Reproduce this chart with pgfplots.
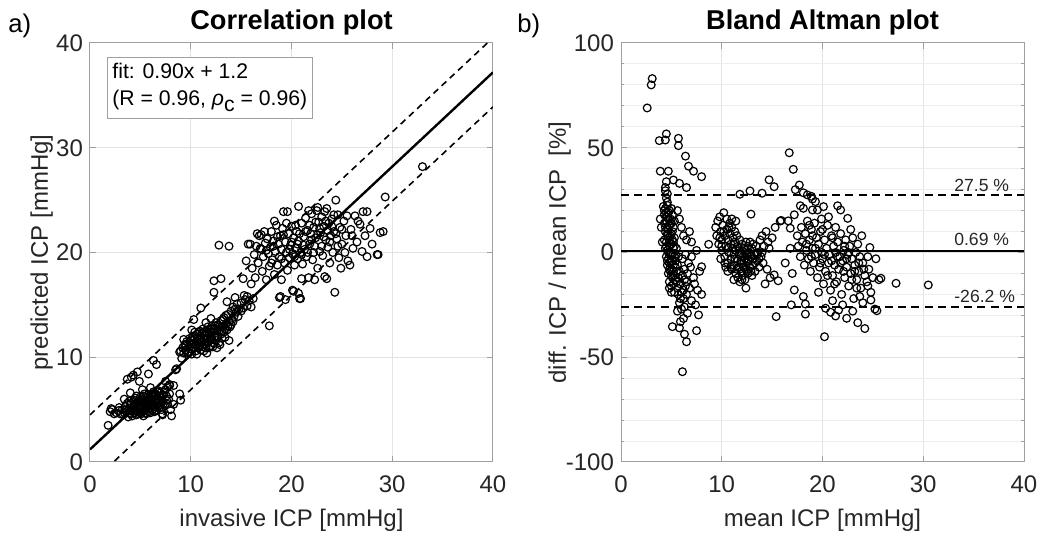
\documentclass[border=0pt]{standalone}
\usepackage{fontspec}
\setmainfont{Liberation Sans}
\usepackage{pgfplots}
\pgfplotsset{compat=1.18}
\usepackage{pgfplotstable}

\definecolor{txt}{HTML}{262626}
\definecolor{axl}{HTML}{A0A0A0}
\definecolor{grd}{HTML}{E3E3E3}
\definecolor{grdm}{HTML}{EEEEEE}

% invasive vs predicted ICP
\pgfplotstableread{
x y
1.8 3.5
2.0 4.8
2.1 5.1
2.2 5.0
2.4 4.6
2.6 4.7
2.8 4.9
2.9 5.2
3.0 4.6
3.2 5.0
3.3 4.5
3.4 6.0
3.4 4.7
3.5 5.3
3.6 4.8
3.6 5.0
3.7 5.6
3.8 4.3
3.9 5.1
3.9 4.7
3.9 5.8
4.0 4.6
4.0 5.5
4.0 6.6
4.1 4.9
4.1 5.6
4.2 5.2
4.2 4.4
4.3 5.8
4.3 4.9
4.4 4.7
4.4 5.3
4.4 5.9
4.5 5.0
4.5 6.1
4.5 5.4
4.6 4.5
4.6 5.5
4.6 6.3
4.7 4.9
4.7 5.7
4.8 5.2
4.8 4.6
4.8 5.8
4.9 5.9
4.9 5.0
5.0 5.4
5.0 4.7
5.0 6.2
5.1 6.0
5.1 5.1
5.1 4.6
5.2 4.8
5.2 5.6
5.2 5.2
5.2 6.9
5.3 5.3
5.3 6.3
5.3 4.4
5.4 4.9
5.4 5.8
5.4 6.5
5.5 5.5
5.5 5.0
5.5 4.7
5.6 6.1
5.6 4.6
5.6 5.2
5.7 5.3
5.7 5.8
5.8 5.1
5.8 6.4
5.8 5.5
5.9 5.6
5.9 4.8
5.9 6.1
6.0 5.9
6.0 5.2
6.0 4.7
6.0 7.1
6.1 6.5
6.1 5.5
6.1 5.8
6.2 5.0
6.2 6.0
6.2 5.4
6.3 5.7
6.3 6.7
6.3 6.2
6.4 5.3
6.4 6.2
6.4 4.8
6.5 5.9
6.5 4.9
6.5 6.5
6.6 6.4
6.6 5.6
6.6 5.0
6.7 6.0
6.7 5.2
6.7 6.7
6.8 6.8
6.8 5.4
6.9 5.8
6.9 6.3
6.9 5.2
7.0 5.5
7.0 6.6
7.0 6.2
7.1 6.1
7.1 5.0
7.2 4.6
7.2 5.8
7.2 4.5
7.3 6.4
7.3 5.6
7.4 5.4
7.4 6.7
7.5 6.9
7.6 5.9
7.6 6.3
7.7 5.5
7.8 6.0
7.9 6.5
7.9 7.3
8.0 5.0
8.3 5.5
8.1 4.4
8.9 6.5
9.0 5.9
8.3 7.3
7.9 7.4
3.7 7.9
4.1 8.1
4.3 8.3
4.7 8.6
4.9 7.7
5.8 8.4
6.6 9.3
6.3 9.7
7.5 7.7
7.7 7.2
8.5 8.8
8.6 8.9
8.9 10.5
9.1 9.9
9.0 10.6
9.2 10.9
9.3 10.4
9.3 11.7
9.4 11.2
9.5 10.7
9.5 11.2
9.6 11.5
9.7 10.5
9.8 11.0
9.8 10.4
9.9 11.8
10.0 10.8
10.0 11.3
10.1 10.3
10.1 11.7
10.1 12.6
10.2 11.6
10.2 12.0
10.3 10.9
10.3 11.3
10.3 13.6
10.4 11.8
10.4 12.4
10.5 10.6
10.5 11.2
10.6 12.2
10.6 11.5
10.6 10.3
10.7 10.9
10.8 11.7
10.8 12.4
10.9 11.1
10.9 12.5
11.0 11.9
11.0 10.7
11.0 14.7
11.0 11.4
11.1 12.3
11.1 11.4
11.2 11.0
11.2 12.7
11.3 11.7
11.3 10.6
11.3 12.4
11.4 12.1
11.4 11.2
11.5 12.5
11.5 10.9
11.5 13.3
11.6 11.8
11.6 10.4
11.6 12.3
11.7 12.9
11.7 11.4
11.8 12.2
11.8 10.9
11.9 11.6
11.9 12.6
12.0 11.1
12.0 12.0
12.0 12.7
12.0 13.7
12.1 13.0
12.1 11.7
12.2 12.4
12.2 11.0
12.3 11.3
12.3 12.8
12.3 17.3
12.3 16.2
12.4 12.0
12.4 13.0
12.5 13.3
12.5 11.6
12.6 12.5
12.6 10.9
12.6 11.9
12.7 12.0
12.7 13.1
12.8 11.4
12.8 20.7
12.8 12.9
12.9 12.6
12.9 11.2
13.0 13.5
13.0 12.2
13.0 17.5
13.1 11.8
13.1 12.5
13.2 12.9
13.2 13.6
13.3 13.8
13.3 12.4
13.4 11.9
13.4 12.7
13.5 13.2
13.5 14.0
13.6 12.6
13.6 15.3
13.7 14.1
13.7 13.0
13.8 13.4
13.8 11.6
13.8 20.6
13.9 12.9
14.0 14.4
14.0 13.1
14.1 13.6
14.2 14.8
14.2 13.4
14.3 13.9
14.4 15.7
14.4 14.6
14.5 14.3
14.6 15.1
14.7 13.9
14.8 14.6
15.0 15.2
15.0 14.4
15.2 14.7
15.2 17.5
15.3 15.9
15.4 15.5
15.5 19.2
15.6 14.9
15.6 15.8
15.7 20.8
15.8 15.4
15.9 20.8
16.0 14.8
16.0 17.0
16.1 18.5
16.2 15.6
16.3 19.8
16.4 17.6
16.5 20.6
16.6 21.8
16.7 19.0
16.8 21.6
16.9 20.4
17.0 21.7
17.0 20.3
17.1 18.2
17.2 19.6
17.3 22.0
17.4 20.9
17.5 17.4
17.5 20.2
17.6 21.3
17.7 19.9
17.8 18.7
17.8 13.0
17.9 20.5
18.0 22.0
18.0 19.0
18.1 19.3
18.2 21.1
18.2 20.6
18.3 17.9
18.3 23.0
18.4 20.1
18.5 22.6
18.6 18.8
18.6 21.5
18.7 20.8
18.8 19.6
18.8 15.7
18.9 21.6
18.9 15.8
19.0 17.4
19.0 20.3
19.0 19.4
19.1 22.3
19.2 23.9
19.2 21.7
19.3 19.0
19.4 21.0
19.4 15.5
19.5 20.0
19.5 22.8
19.6 23.9
19.6 18.3
19.7 21.8
19.8 19.5
19.8 20.3
19.9 20.7
20.0 22.5
20.0 21.0
20.1 16.4
20.1 19.9
20.2 21.4
20.2 16.3
20.3 18.8
20.3 19.6
20.4 20.4
20.4 22.6
20.5 22.0
20.6 19.4
20.6 20.8
20.7 24.4
20.7 21.1
20.7 16.1
20.8 15.6
20.8 21.8
20.9 20.0
20.9 15.6
21.0 22.8
21.0 17.5
21.0 19.8
21.1 18.9
21.2 21.5
21.2 20.7
21.3 20.3
21.4 23.3
21.4 22.0
21.5 19.6
21.6 22.1
21.6 20.0
21.7 17.6
21.7 24.0
21.8 20.8
21.8 22.6
21.9 21.8
22.0 23.7
22.0 21.2
22.1 19.3
22.2 22.4
22.2 20.0
22.3 20.6
22.3 17.4
22.4 21.4
22.4 22.9
22.5 24.0
22.6 18.5
22.6 24.3
22.6 21.7
22.7 22.9
22.8 20.1
22.8 22.3
22.9 21.9
23.0 23.4
23.0 20.6
23.1 19.7
23.2 22.5
23.2 21.5
23.3 17.7
23.3 23.9
23.4 21.2
23.4 23.0
23.5 24.2
23.5 17.5
23.6 20.5
23.6 22.1
23.7 22.8
23.8 19.0
23.8 21.0
23.9 21.6
24.0 23.2
24.0 22.5
24.1 20.0
24.2 22.0
24.2 23.6
24.3 16.2
24.4 25.0
24.4 21.8
24.5 21.3
24.6 23.6
24.6 20.6
24.7 19.5
24.8 22.4
24.9 18.5
25.0 20.8
25.0 22.2
25.2 23.0
25.3 20.0
25.4 21.6
25.5 23.5
25.6 19.2
25.8 18.8
25.9 22.2
26.0 21.6
26.1 20.4
26.3 23.5
26.5 21.0
26.6 23.0
26.8 22.7
27.0 20.1
27.1 23.9
27.3 21.6
27.5 23.9
27.5 19.6
27.8 22.3
28.0 20.8
28.5 19.8
28.6 19.8
28.8 21.9
29.1 22.0
29.3 25.3
33.0 28.2
}\corr

% Bland-Altman: mean ICP vs relative difference [%]
\pgfplotstableread{
x y
3.1 83
3.0 80
2.6 69
3.8 53.4
4.4 53.7
4.5 56.6
5.7 54.5
5.7 51
6.4 46
6.7 41.2
7.2 38.8
8.0 36.2
3.9 38.8
4.7 38.8
4.5 33.8
5.2 34.6
4.4 31
5.8 33
6.5 31
4.6 28
4.4 29.5
4.5 26
4.6 24
4.2 22
4.4 21
4.6 22.5
4.8 20
5.0 21
4.3 20
4.3 18
4.5 17
4.5 19
4.7 19
4.7 16
4.9 16
4.9 14
5.1 18
5.3 15
4.3 14
4.5 15
4.6 12
4.4 12
4.8 13
5.0 14
5.2 12
4.4 10
4.6 9
4.6 8
4.7 11
4.9 8
4.8 6
5.0 9
5.1 10
5.3 7
4.3 6
4.5 5
4.7 7
4.9 4
5.0 4
5.1 6
5.2 5
5.3 3
4.4 2
4.5 3
4.6 1
4.8 3
5.0 0
4.7 0
5.2 2
5.4 -1
5.5 2
4.5 -2
4.7 -3
4.9 -1
4.9 -4
5.1 -1
5.1 -4
5.3 -2
4.6 -4
4.6 -6
4.8 -5
4.8 -8
5.0 -8
5.2 -6
5.4 -7
5.4 -4
5.7 -2
5.6 -6
4.7 -10
4.9 -9
5.0 -11
5.1 -12
5.2 -9
5.3 -11
5.5 -9
5.8 -9
4.8 -14
5.0 -16
5.2 -15
5.4 -13
5.5 -14
5.6 -17
5.3 -19
5.0 -19
4.8 -17
5.7 -12
5.7 -20
5.9 -15
5.9 -22
4.0 12
3.9 16
4.1 5
5.6 20
5.8 16
6.0 12
6.2 8
6.5 6
6.8 10
7.0 5
6.1 -3
6.1 -11
6.4 -1
6.7 -5
7.0 -2
6.3 -8
6.3 -13
6.6 -10
6.5 -14
6.9 -7
7.2 -12
6.0 -19
6.2 -18
6.4 -16
6.8 -17
7.3 -15
7.6 -18
6.2 -22
6.5 -20
7.0 -23
7.4 -25
5.8 -24
6.0 -27
6.3 -26
5.6 -28
8.0 -6.8
8.0 -20
8.7 3.9
7.5 1
7.8 -9
5.1 -35.4
5.8 -36
6.2 -31.5
6.3 -39
6.5 -42.6
7.5 -37.3
7.7 -29.8
6.1 -56.9
5.9 -33
6.6 -29
9.4 12
9.5 8
9.6 15
9.7 4
9.8 17
9.8 7
9.9 10
9.9 -3
10.0 1
10.0 6
10.0 3
10.1 13
10.2 19
10.2 10
10.3 -2
10.3 8
10.3 -5
10.4 3
10.4 -7
10.5 11
10.5 16
10.6 -5
10.6 6
10.6 2
10.6 -9
10.7 0
10.7 12
10.8 9
10.8 14
10.9 -3
10.9 4
10.9 -7
11.0 -8
11.0 12
11.0 16
11.1 2
11.1 7
11.2 -1
11.2 -6
11.2 4
11.2 -13
11.3 10
11.3 5
11.3 -3
11.4 -10
11.4 1
11.4 15
11.5 -4
11.5 8
11.5 -8
11.6 -12
11.6 3
11.7 -7
11.7 -1
11.7 2
11.8 6
11.8 -14
11.8 27.8
11.9 0
11.9 -9
11.9 -4
12.0 4
12.0 -5
12.0 -13
12.0 -9
12.1 -2
12.1 -11
12.2 2
12.2 -7
12.2 -4
12.3 -3
12.3 -13
12.3 0
12.4 1
12.4 -8
12.4 -17
12.4 5
12.5 -1
12.5 -5
12.5 -9
12.6 3
12.6 -10
12.6 -3
12.7 -4
12.7 0
12.8 -7
12.8 5
12.8 29.4
12.8 -1
12.9 -2
12.9 18.3
12.9 -9
13.0 -11
13.0 2
13.1 -6
13.1 -3
13.1 4
13.2 -1
13.3 -9
13.3 -5
13.4 3
13.5 -4
13.5 -1
13.6 0
13.7 -7
13.7 -3
13.8 6
13.9 -2
14.0 8
14.0 0
14.0 28.3
14.1 -5
14.2 3
14.3 -15
14.4 10
14.5 -8
14.6 5
14.7 2
14.7 34.7
14.8 -12
15.0 7
15.2 -10.7
15.2 31.4
15.3 12
15.6 -13.5
15.8 15
15.9 15.3
15.4 -30.6
16.3 -5
16.6 15.1
16.7 47.6
16.8 11.6
16.8 2
16.9 -25
17.0 -10
17.1 39.7
17.2 18
17.2 -17.9
17.3 30
17.5 8
17.6 3
17.7 32.2
17.8 -2
17.8 22.3
17.9 12
18.0 5
18.1 28.5
18.1 21.1
18.1 -21
18.2 -6
18.3 9
18.3 -24.6
18.3 -29.4
18.4 1
18.4 4
18.5 15
18.5 27.5
18.6 -3
18.7 6
18.7 13
18.8 -9
18.9 11
18.9 26.8
18.9 -2
19.0 2
19.0 25.5
19.0 20.3
19.0 8
19.1 -5
19.2 14
19.3 -1
19.3 24.3
19.3 2
19.4 7
19.5 -12
19.5 20.3
19.6 4
19.6 -19
19.7 -7
19.8 10
19.8 -5
19.9 0
19.9 16
20.0 -3
20.0 11
20.1 -15
20.1 21.9
20.2 6
20.2 -40.2
20.2 -1
20.3 -9
20.3 -26.6
20.4 2
20.5 13
20.5 -11
20.6 -5
20.6 17
20.7 -1
20.8 -18
20.8 -28.5
20.9 8
20.9 -4
21.0 -11
21.0 -23
21.0 7
21.1 3
21.2 -6
21.2 -15
21.3 0
21.3 12
21.3 -30.3
21.4 -14
21.5 5
21.5 22.3
21.5 -2
21.6 -8
21.6 -27.5
21.7 -2
21.8 9
21.8 20.3
21.8 -5
21.9 -20
22.0 -4
22.0 -25
22.1 1
22.1 -9
22.2 -12
22.2 3
22.3 6
22.4 -7
22.4 -31.4
22.4 -3
22.5 -1
22.5 16.3
22.6 -16
22.6 0
22.7 3
22.8 -10
22.8 11
22.9 -3
22.9 -13
23.0 7
23.0 -28
23.1 -22
23.2 -6
23.2 -9
23.3 0
23.4 -13
23.4 -17
23.5 4
23.5 -33.5
23.6 -9
23.6 -5
23.7 -2
23.7 -21
23.8 -17
23.9 8
24.0 -5
24.0 -24
24.1 -8
24.2 -11
24.2 -36.3
24.4 -14
24.5 -2
24.5 -16
24.6 -8
24.7 2.4
24.8 -19
24.8 -22.7
25.0 -12
25.2 -27
25.3 -3
25.4 -27.8
25.6 -13
25.8 -12.3
27.3 -14.7
30.5 -15.5
}\ba

\pgfplotsset{
  myax/.style={
    scale only axis, width=201.5pt, height=209.5pt,
    xmin=0, xmax=40, xtick={0,10,20,30,40},
    axis line style={axl, line width=0.5pt},
    tick style={axl, line width=0.5pt},
    tick align=inside, major tick length=3pt, minor tick length=1.5pt,
    grid=major, major grid style={grd, line width=0.5pt},
    tick label style={font=\fontsize{12}{14}\selectfont, text=txt},
    xticklabel style={yshift=-3.5pt},
    label style={font=\fontsize{12}{14}\selectfont, text=txt},
    title style={font=\fontsize{13.6}{16}\selectfont\bfseries, text=black,
      at={(0.5,1)}, anchor=base, yshift=0.8pt},
    xlabel style={at={(axis description cs:0.5,-0.14)}, anchor=center},
    /pgf/number format/assume math mode=true,
    clip=true,
  },
  pts/.style={only marks, mark=o, black, mark size=1.95pt,
    mark options={line width=0.6pt}},
}

\begin{document}
\begin{tikzpicture}
\path[use as bounding box] (-45pt,-36pt) rectangle (474.5pt,231pt);

\begin{axis}[myax,
  title={Correlation plot},
  xlabel={invasive ICP [mmHg]},
  ylabel={predicted ICP [mmHg]},
  ylabel style={at={(axis description cs:-0.12,0.5)}, anchor=center},
  ymin=0, ymax=40, ytick={0,10,20,30,40},
]
\addplot[pts] table {\corr};
\addplot[black, line width=1.2pt] coordinates {(0,1.2) (40,37.2)};
\addplot[black, line width=0.8pt, dash pattern=on 3.2pt off 2.4pt] coordinates {(0,4.5) (40,40.5)};
\addplot[black, line width=0.8pt, dash pattern=on 3.2pt off 2.4pt] coordinates {(0,-2.1) (40,33.9)};
\node[draw=axl, fill=white, line width=0.5pt, anchor=north west, align=left,
  font=\fontsize{10.6}{13.5}\selectfont, text=black, inner xsep=2.5pt, inner ysep=3pt]
  at (rel axis cs:0.042,0.967)
  {fit: 0.90x + 1.2\\(R = 0.96, \textit{ρ}\raisebox{-0.55ex}{c} = 0.96)};
\end{axis}

\begin{axis}[myax, xshift=265.5pt,
  title={Bland Altman plot},
  xlabel={mean ICP [mmHg]},
  ylabel={diff. ICP / mean ICP\ \ [\%]},
  ylabel style={at={(axis description cs:-0.152,0.5)}, anchor=center},
  ymin=-100, ymax=100, ytick={-100,-50,0,50,100},
  minor ytick={-90,-80,-70,-60,-40,-30,-20,-10,10,20,30,40,60,70,80,90},
  grid=both, minor grid style={grdm, line width=0.5pt},
]
\addplot[pts] table {\ba};
\addplot[black, line width=1.3pt] coordinates {(0,0.69) (40,0.69)};
\addplot[black, line width=1pt, dash pattern=on 4pt off 2.6pt] coordinates {(0,27.5) (40,27.5)};
\addplot[black, line width=1pt, dash pattern=on 4pt off 2.6pt] coordinates {(0,-26.2) (40,-26.2)};
\node[font=\fontsize{8.8}{10}\selectfont, text=txt] at (axis cs:35.8,32.2) {27.5 \%};
\node[font=\fontsize{8.8}{10}\selectfont, text=txt] at (axis cs:35.8,6) {0.69 \%};
\node[font=\fontsize{8.8}{10}\selectfont, text=txt] at (axis cs:36.1,-21.1) {-26.2 \%};
\end{axis}

\node[anchor=base west, inner sep=0pt, font=\fontsize{12.8}{14}\selectfont, text=black] at (-41pt,214.5pt) {a)};
\node[anchor=base west, inner sep=0pt, font=\fontsize{12.8}{14}\selectfont, text=black] at (213.5pt,214.5pt) {b)};
\end{tikzpicture}
\end{document}
